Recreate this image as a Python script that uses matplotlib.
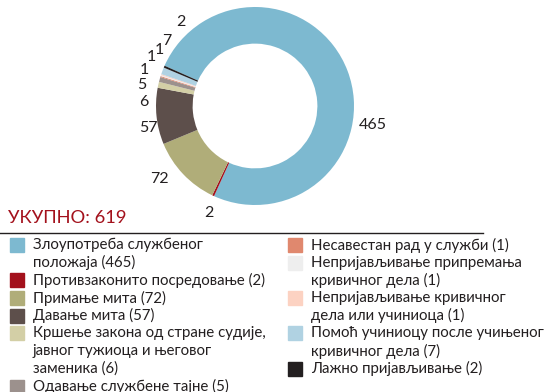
import matplotlib.pyplot as plt

plt.rcParams['font.family'] = ['Lato', 'DejaVu Sans']

# Кривична дела - број пријава
categories = [
    'Злоупотреба службеног\nположаја',
    'Противзаконито посредовање',
    'Примање мита',
    'Давање мита',
    'Кршење закона од стране судије,\nјавног тужиоца и његовог\nзаменика',
    'Одавање службене тајне',
    'Несавестан рад у служби',
    'Непријављивање припремања\nкривичног дела',
    'Непријављивање кривичног\nдела или учиниоца',
    'Помоћ учиниоцу после учињеног\nкривичног дела',
    'Лажно пријављивање',
]
counts = [465, 2, 72, 57, 6, 5, 1, 1, 1, 7, 2]
colors = ['#7db9d0', '#a3111c', '#b0ad79', '#5d4f4b', '#d3cfa6', '#9c918d',
          '#e0886e', '#eeeeee', '#fcd2c2', '#b0d2e2', '#231f20']

# позиције бројева око прстена (у јединицама полупречника)
label_pos = [(1.19, -0.19), (-0.47, -1.08), (-0.97, -0.74), (-1.08, -0.22),
             (-1.12, 0.04), (-1.14, 0.21), (-1.12, 0.36), (-1.05, 0.49),
             (-0.97, 0.57), (-0.89, 0.66), (-0.75, 0.85)]

fig = plt.figure(figsize=(5.53, 3.92), dpi=100)
W, H = 553, 392
cx, cy, r = 255, 106, 99
span = 1.5
ax = fig.add_axes([(cx - r * span) / W, 1 - (cy + r * span) / H,
                   2 * r * span / W, 2 * r * span / H])
ax.pie(counts, colors=colors, startangle=156, counterclock=False,
       wedgeprops=dict(width=0.37, linewidth=0))
ax.set_xlim(-span, span)
ax.set_ylim(-span, span)
ax.set_aspect('equal')
ax.axis('off')

for value, (x, y) in zip(counts, label_pos):
    ax.text(x, y, str(value), ha='center', va='center', fontsize=11.5,
            color='#231f20')

# укупно и раздвојна линија
total = sum(counts)
fig.text(8 / W, 1 - 218 / H, f'УКУПНО: {total}', color='#a3111c',
         fontsize=13.2, va='center', ha='left')
fig.add_artist(plt.Line2D([0, 483 / W], [1 - 232.5 / H, 1 - 232.5 / H],
                          color='#231f20', linewidth=1.0))

# легенда у две колоне
line_h = 17.7
columns = [(range(0, 6), 10, 33), (range(6, 11), 288, 311)]
for idx, box_x, text_x in columns:
    y = 245
    for i in idx:
        fig.patches.append(plt.Rectangle((box_x / W, 1 - (y + 7) / H),
                                         14 / W, 14 / H, color=colors[i],
                                         transform=fig.transFigure))
        lines = categories[i].split('\n')
        lines[-1] += f' ({counts[i]})'
        for j, ln in enumerate(lines):
            fig.text(text_x / W, 1 - (y + j * line_h) / H, ln, fontsize=10.8,
                     color='#231f20', va='center', ha='left')
        y += line_h * len(lines)

fig.savefig('out.png', dpi=100)
